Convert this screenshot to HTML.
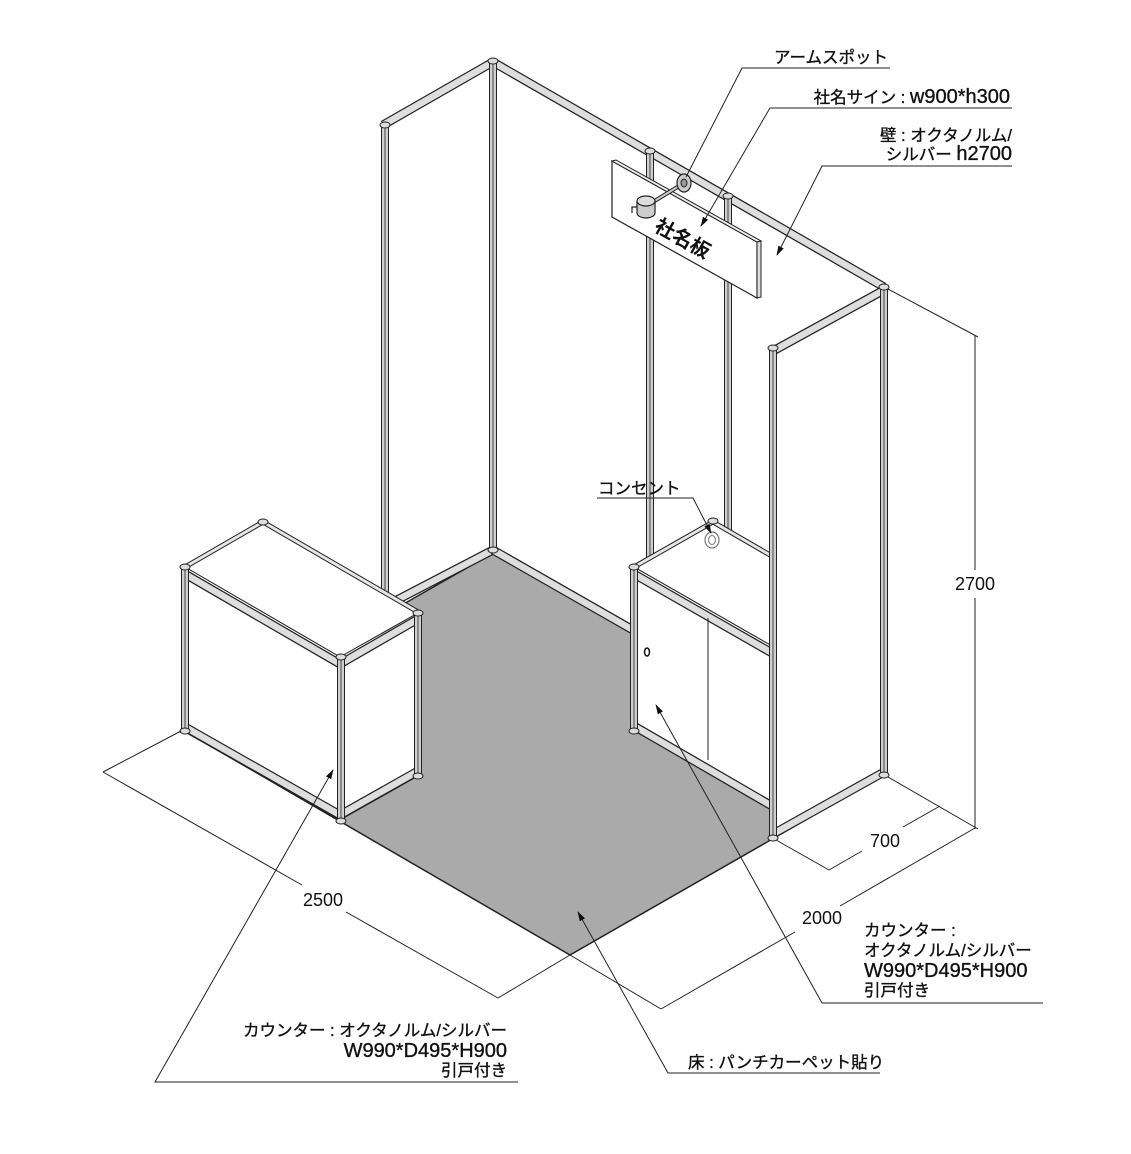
<!DOCTYPE html>
<html><head><meta charset="utf-8"><style>
html,body{margin:0;padding:0;background:#fff}
svg{display:block}
text{font-family:"Liberation Sans","Noto Sans CJK JP",sans-serif;fill:#111}
.lb{font-size:16.5px;font-weight:normal;stroke:#111;stroke-width:0.35}
.lt{font-size:20px}
.dm{font-size:18px}
.ro{stroke:#222;stroke-width:9;stroke-linecap:butt}
.ri{stroke:#dedede;stroke-width:6.5}
.to{stroke:#222;stroke-width:5}
.ti{stroke:#e6e6e6;stroke-width:3}
.po{stroke:#222;stroke-width:8}
.pi{stroke:#cfcfcf;stroke-width:6}
.pc{stroke:#444;stroke-width:1}
.ln{stroke:#222;stroke-width:1;fill:none}
</style></head><body>
<svg width="1131" height="1154" viewBox="0 0 1131 1154" xmlns="http://www.w3.org/2000/svg">
<defs><marker id="a" markerWidth="10" markerHeight="8" refX="9" refY="4" orient="auto" markerUnits="userSpaceOnUse"><path d="M0,1 L10,4 L0,7 Z" fill="#111"/></marker></defs>

<polygon points="493,553 183,730 570,955 884,775" fill="#aaaaaa" stroke="#222" stroke-width="1.5"/>

<line class="ro" x1="383" y1="125" x2="493" y2="62"/><line class="ri" x1="383" y1="125" x2="493" y2="62"/>
<line class="ro" x1="493" y1="62" x2="884" y2="287"/><line class="ri" x1="493" y1="62" x2="884" y2="287"/>
<line class="ro" x1="493" y1="550" x2="395" y2="601"/><line class="ri" x1="493" y1="550" x2="395" y2="601"/>
<line class="ro" x1="493" y1="550" x2="640" y2="634"/><line class="ri" x1="493" y1="550" x2="640" y2="634"/>

<g>
<line class="po" x1="385" y1="125" x2="385" y2="592"/><line class="pi" x1="385" y1="125" x2="385" y2="592"/><line class="pc" x1="385" y1="125" x2="385" y2="592"/>
<line class="po" x1="493" y1="62" x2="493" y2="550"/><line class="pi" x1="493" y1="62" x2="493" y2="550"/><line class="pc" x1="493" y1="62" x2="493" y2="550"/>
<line class="po" x1="650" y1="152" x2="650" y2="560"/><line class="pi" x1="650" y1="152" x2="650" y2="560"/><line class="pc" x1="650" y1="152" x2="650" y2="560"/>
<line class="po" x1="728" y1="197" x2="728" y2="540"/><line class="pi" x1="728" y1="197" x2="728" y2="540"/><line class="pc" x1="728" y1="197" x2="728" y2="540"/>
</g>
<ellipse cx="385" cy="125" rx="5" ry="3" fill="#ddd" stroke="#222"/>
<ellipse cx="493" cy="61" rx="5" ry="3" fill="#ddd" stroke="#222"/>
<ellipse cx="650" cy="151" rx="5" ry="3" fill="#ddd" stroke="#222"/>
<ellipse cx="728" cy="196" rx="5" ry="3" fill="#ddd" stroke="#222"/>
<ellipse cx="493" cy="550" rx="5" ry="3" fill="#ddd" stroke="#222"/>

<polygon points="612,161 757,242 757,298 612,217" fill="#fff" stroke="#222" stroke-width="1.2"/>
<polygon points="612,161 616,160 761,241 757,242" fill="#eee" stroke="#222" stroke-width="1"/>
<polygon points="757,242 761,241 761,297 757,298" fill="#ddd" stroke="#222" stroke-width="1"/>
<text x="0" y="0" transform="translate(653,230) rotate(29)" style="font-size:20px;font-weight:bold">社名板</text>
<line x1="684" y1="183" x2="648" y2="205" stroke="#222" stroke-width="4"/>
<line x1="684" y1="183" x2="648" y2="205" stroke="#ccc" stroke-width="2"/>
<ellipse cx="684" cy="183" rx="7" ry="9" fill="#ccc" stroke="#222" stroke-width="1.2"/>
<ellipse cx="684" cy="183" rx="3" ry="4" fill="#999" stroke="#222" stroke-width="1"/>
<path d="M637,201 v12 a9,5 0 0 0 18,0 v-12" fill="#ccc" stroke="#222" stroke-width="1.2"/>
<ellipse cx="646" cy="201" rx="9" ry="5" fill="#ddd" stroke="#222" stroke-width="1.2"/>
<path d="M637,207 h-5 v6" fill="none" stroke="#222" stroke-width="1.2"/>

<polygon points="773,348 884,287 884,775 773,838" fill="#fff"/>
<line class="ro" x1="884" y1="290" x2="773" y2="351"/><line class="ri" x1="884" y1="290" x2="773" y2="351"/>
<line class="ro" x1="773" y1="834" x2="884" y2="772"/><line class="ri" x1="773" y1="834" x2="884" y2="772"/>

<polygon points="634,567 713,522 772,556 772,646" fill="#fff" stroke="#222" stroke-width="1"/>
<polygon points="634,567 772,646 772,805 634,731" fill="#fff" stroke="#222" stroke-width="1"/>
<line class="to" x1="634" y1="567" x2="713" y2="522"/><line class="ti" x1="634" y1="567" x2="713" y2="522"/>
<line class="to" x1="713" y1="522" x2="770" y2="555"/><line class="ti" x1="713" y1="522" x2="770" y2="555"/>
<line class="ro" x1="634" y1="574" x2="772" y2="653"/><line class="ri" x1="634" y1="574" x2="772" y2="653"/>
<line class="ro" x1="634" y1="726" x2="772" y2="806"/><line class="ri" x1="634" y1="726" x2="772" y2="806"/>
<line x1="708" y1="618" x2="708" y2="760" stroke="#222" stroke-width="1"/>
<ellipse cx="647" cy="652" rx="2.5" ry="4" fill="#fff" stroke="#111" stroke-width="1.5"/>
<ellipse cx="712" cy="540" rx="7" ry="8" fill="none" stroke="#777" stroke-width="1.2"/>
<ellipse cx="712" cy="540" rx="3.5" ry="4.5" fill="none" stroke="#777" stroke-width="1"/>
<line class="po" x1="634" y1="567" x2="634" y2="731"/><line class="pi" x1="634" y1="567" x2="634" y2="731"/><line class="pc" x1="634" y1="567" x2="634" y2="731"/>
<ellipse cx="634" cy="567" rx="5" ry="3" fill="#ddd" stroke="#222"/>
<ellipse cx="713" cy="521" rx="5" ry="3" fill="#ddd" stroke="#222"/>
<ellipse cx="634" cy="731" rx="5" ry="3" fill="#ddd" stroke="#222"/>

<line class="po" x1="773" y1="348" x2="773" y2="838"/><line class="pi" x1="773" y1="348" x2="773" y2="838"/><line class="pc" x1="773" y1="348" x2="773" y2="838"/>
<line class="po" x1="884" y1="287" x2="884" y2="775"/><line class="pi" x1="884" y1="287" x2="884" y2="775"/><line class="pc" x1="884" y1="287" x2="884" y2="775"/>
<ellipse cx="773" cy="348" rx="5" ry="3" fill="#ddd" stroke="#222"/>
<ellipse cx="884" cy="287" rx="5" ry="3" fill="#ddd" stroke="#222"/>
<ellipse cx="773" cy="838" rx="5" ry="3" fill="#ddd" stroke="#222"/>
<ellipse cx="884" cy="775" rx="5" ry="3" fill="#ddd" stroke="#222"/>

<polygon points="263,522 185,567 340,657 418,613" fill="#fff" stroke="#222" stroke-width="1"/>
<polygon points="185,567 340,657 340,820 183,731" fill="#fff" stroke="#222" stroke-width="1"/>
<polygon points="340,657 418,613 418,776 340,820" fill="#fff" stroke="#222" stroke-width="1"/>
<line class="to" x1="263" y1="522" x2="185" y2="567"/><line class="ti" x1="263" y1="522" x2="185" y2="567"/>
<line class="to" x1="263" y1="522" x2="418" y2="612"/><line class="ti" x1="263" y1="522" x2="418" y2="612"/>
<line class="ro" x1="185" y1="574" x2="340" y2="664"/><line class="ri" x1="185" y1="574" x2="340" y2="664"/>
<line class="ro" x1="340" y1="664" x2="418" y2="619"/><line class="ri" x1="340" y1="664" x2="418" y2="619"/>
<line class="ro" x1="185" y1="727" x2="340" y2="815"/><line class="ri" x1="185" y1="727" x2="340" y2="815"/>
<line class="ro" x1="340" y1="815" x2="418" y2="771"/><line class="ri" x1="340" y1="815" x2="418" y2="771"/>
<line class="po" x1="185" y1="567" x2="185" y2="731"/><line class="pi" x1="185" y1="567" x2="185" y2="731"/><line class="pc" x1="185" y1="567" x2="185" y2="731"/>
<line class="po" x1="418" y1="613" x2="418" y2="776"/><line class="pi" x1="418" y1="613" x2="418" y2="776"/><line class="pc" x1="418" y1="613" x2="418" y2="776"/>
<line class="po" x1="341" y1="657" x2="341" y2="821"/><line class="pi" x1="341" y1="657" x2="341" y2="821"/><line class="pc" x1="341" y1="657" x2="341" y2="821"/>
<ellipse cx="263" cy="522" rx="5" ry="3" fill="#ddd" stroke="#222"/>
<ellipse cx="185" cy="567" rx="5" ry="3" fill="#ddd" stroke="#222"/>
<ellipse cx="341" cy="657" rx="5" ry="3" fill="#ddd" stroke="#222"/>
<ellipse cx="418" cy="613" rx="5" ry="3" fill="#ddd" stroke="#222"/>
<ellipse cx="185" cy="731" rx="5" ry="3" fill="#ddd" stroke="#222"/>
<ellipse cx="341" cy="821" rx="5" ry="3" fill="#ddd" stroke="#222"/>
<ellipse cx="418" cy="776" rx="5" ry="3" fill="#ddd" stroke="#222"/>

<g class="ln">
<line x1="888" y1="289" x2="978" y2="337"/>
<line x1="888" y1="777" x2="978" y2="829"/>
<line x1="975" y1="335" x2="975" y2="570"/>
<line x1="975" y1="598" x2="975" y2="829"/>
<line x1="776" y1="840" x2="829" y2="870"/>
<line x1="829" y1="870" x2="862" y2="851"/>
<line x1="903" y1="827" x2="940" y2="806"/>
<line x1="570" y1="955" x2="661" y2="1009"/>
<line x1="661" y1="1009" x2="795" y2="932"/>
<line x1="840" y1="906" x2="975" y2="828"/>
<line x1="181" y1="731" x2="103" y2="772"/>
<line x1="570" y1="955" x2="498" y2="998"/>
<line x1="103" y1="772" x2="302" y2="885"/>
<line x1="346" y1="912" x2="498" y2="998"/>
</g>
<text class="dm" x="975" y="590" text-anchor="middle">2700</text>
<text class="dm" x="885" y="847" text-anchor="middle">700</text>
<text class="dm" x="822" y="924" text-anchor="middle">2000</text>
<text class="dm" x="323" y="906" text-anchor="middle">2500</text>

<g class="ln">
<polyline points="890,68 742,68 686,177"/>
<polyline points="1012,108 770,108 701,226" marker-end="url(#a)"/>
<polyline points="1012,166 822,166 777,255" marker-end="url(#a)"/>
<polyline points="597,498 693,498 711,533" marker-end="url(#a)"/>
<polyline points="1043,1003 822,1003 656,705" marker-end="url(#a)"/>
<polyline points="880,1073 668,1073 578,912" marker-end="url(#a)"/>
<polyline points="518,1082 155,1082 333,770" marker-end="url(#a)"/>
</g>
<text class="lb" x="888" y="63" text-anchor="end">アームスポット</text>
<text class="lb" x="1010" y="103" text-anchor="end">社名サイン : <tspan class="lt">w900*h300</tspan></text>
<text class="lb" x="1012" y="141" text-anchor="end">壁 : オクタノルム/</text>
<text class="lb" x="1012" y="160" text-anchor="end">シルバー <tspan class="lt">h2700</tspan></text>
<text class="lb" x="598" y="494">コンセント</text>
<text class="lb" x="864" y="936">カウンター :</text>
<text class="lb" x="864" y="956">オクタノルム/シルバー</text>
<text class="lb lt" x="864" y="977">W990*D495*H900</text>
<text class="lb" x="864" y="996">引戸付き</text>
<text class="lb" x="688" y="1068">床 : パンチカーペット貼り</text>
<text class="lb" x="507" y="1036" text-anchor="end">カウンター : オクタノルム/シルバー</text>
<text class="lb lt" x="507" y="1057" text-anchor="end">W990*D495*H900</text>
<text class="lb" x="507" y="1076" text-anchor="end">引戸付き</text>
</svg>
</body></html>
